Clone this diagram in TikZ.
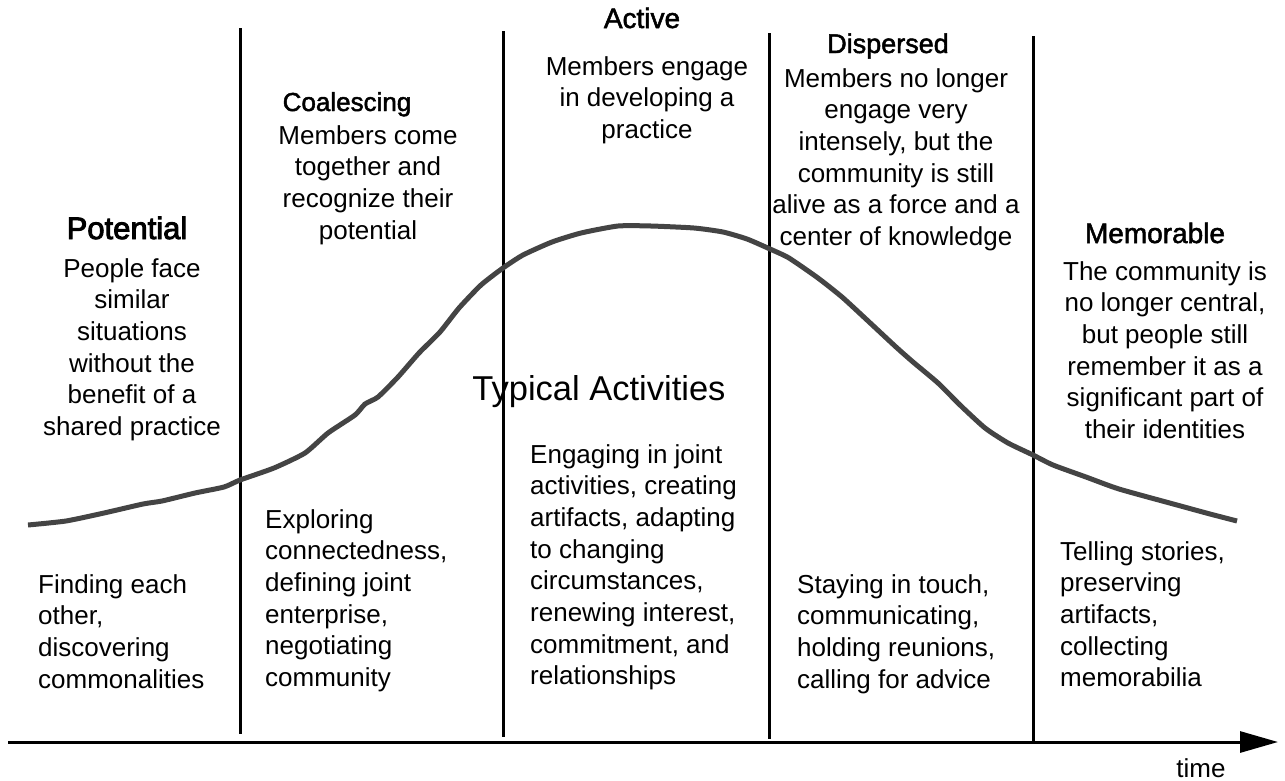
\documentclass[tikz,border=0pt]{standalone}
\usepackage{fontspec}
\setmainfont{Liberation Sans}
\newfontfamily\headfont{Liberation Sans}[FakeBold=1.8]
\newfontfamily\headfontheavy{Liberation Sans}[FakeBold=3]
\usetikzlibrary{arrows.meta}
\definecolor{curvegray}{HTML}{444444}

\begin{document}
\begin{tikzpicture}[x=1pt,y=-1pt,
  body/.style={inner sep=0pt, font=\fontsize{26}{31.7}\selectfont},
  centred/.style={body, align=center, anchor=north},
  lefttext/.style={body, align=left, anchor=north west},
  phase/.style={inner sep=0pt, anchor=base, font=\headfont\fontsize{28}{34}\selectfont},
  divider/.style={line width=3pt, draw=black},
  lifecurve/.style={line width=5pt, draw=curvegray, line join=round},
  timeaxis/.style={line width=3pt, draw=black, -{Triangle[length=38pt,width=21pt]}}
]
\useasboundingbox (0,0) rectangle (1285,780);

% stage boundaries
\coordinate (d1top) at (240,28);   \coordinate (d1bot) at (240,734);
\coordinate (d2top) at (503,31);   \coordinate (d2bot) at (503,737);
\coordinate (d3top) at (769,33);   \coordinate (d3bot) at (769,739);
\coordinate (d4top) at (1033,36);  \coordinate (d4bot) at (1033,742);
\draw[divider] (d1top) -- (d1bot);
\draw[divider] (d2top) -- (d2bot);
\draw[divider] (d3top) -- (d3bot);
\draw[divider] (d4top) -- (d4bot);

% time axis
\coordinate (axisstart) at (8,742);
\coordinate (axisend) at (1278,742);
\draw[timeaxis] (axisstart) -- (axisend);
\node[anchor=base, inner sep=0pt, font=\fontsize{26}{31.7}\selectfont] (timelabel) at (1201,777) {time};

% level of energy across the life cycle
\draw[lifecurve] plot[smooth, tension=0.35] coordinates {
  (28,525) (66,521) (104,513) (143,504) (162,501) (195,493) (224,487)
  (240,480) (274,468) (305,453) (328,433) (355,415) (365,404) (378,397)
  (398,377) (419,353) (440,332) (459,308) (481,285) (503,268) (523,255)
  (552,242) (581,233) (618,226) (651,226) (694,228) (723,232) (747,239)
  (770,249) (789,258) (818,278) (842,297) (867,320) (896,347) (913,362)
  (938,383) (960,405) (985,428) (1008,443) (1033,455) (1053,465)
  (1086,477) (1119,489) (1177,505) (1210,514) (1237,521)};

% stage names
\node[phase, font=\headfontheavy\fontsize{31}{36}\selectfont] (potential) at (127,239) {Potential};
\node[phase, font=\headfont\fontsize{26}{32}\selectfont] (coalescing) at (347,111) {Coalescing};
\node[phase] (active) at (642,28) {Active};
\node[phase, font=\headfont\fontsize{27}{34}\selectfont] (dispersed) at (888,53) {Dispersed};
\node[phase] (memorable) at (1155,243) {Memorable};
\node[inner sep=0pt, anchor=base, font=\fontsize{34.5}{40}\selectfont] (typical) at (599,400) {Typical Activities};

% stage descriptions
\node[centred] (potentialtext) at (132,258)
  {People face\\similar\\situations\\without the\\benefit of a\\shared practice};
\node[centred] (coalescingtext) at (368,125)
  {Members come\\together and\\recognize their\\potential};
\node[centred] (activetext) at (647,56)
  {Members engage\\in developing a\\practice};
\node[centred] (dispersedtext) at (896,68)
  {Members no longer\\engage very\\intensely, but the\\community is still\\alive as a force and a\\center of knowledge};
\node[centred] (memorabletext) at (1165,261)
  {The community is\\no longer central,\\but people still\\remember it as a\\significant part of\\their identities};

% typical activities per stage
\node[lefttext] (act1) at (38,574)
  {Finding each\\other,\\discovering\\commonalities};
\node[lefttext] (act2) at (265,509)
  {Exploring\\connectedness,\\defining joint\\enterprise,\\negotiating\\community};
\node[lefttext] (act3) at (530,444)
  {Engaging in joint\\activities, creating\\artifacts, adapting\\to changing\\circumstances,\\renewing interest,\\commitment, and\\relationships};
\node[lefttext] (act4) at (797,574)
  {Staying in touch,\\communicating,\\holding reunions,\\calling for advice};
\node[lefttext] (act5) at (1060,541)
  {Telling stories,\\preserving\\artifacts,\\collecting\\memorabilia};
\end{tikzpicture}
\end{document}
